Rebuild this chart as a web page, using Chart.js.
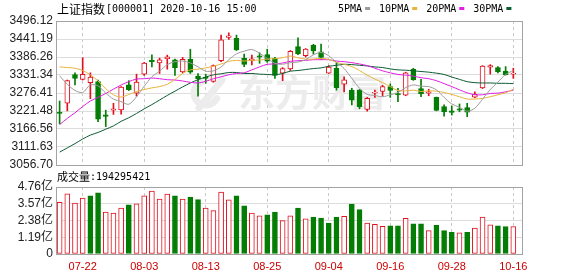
<!DOCTYPE html>
<html><head><meta charset="utf-8">
<script src="https://cdn.jsdelivr.net/npm/chart.js@4.4.0/dist/chart.umd.min.js"></script>
<style>
html,body{margin:0;padding:0;background:#fff;width:578px;height:276px;overflow:hidden}
#wrap{position:relative;width:578px;height:276px}
canvas{position:absolute;left:0}
#kline{top:0;width:578px;height:180px}
#vol{top:168px;width:578px;height:108px}
</style></head><body>
<div id="wrap"><canvas id="kline" width="578" height="180"></canvas><canvas id="vol" width="578" height="108"></canvas></div>
<script>
// ---- data: SSE Composite daily bars, 2020-07-17 .. 2020-10-16 ----
const dates = ['07-17','07-20','07-21','07-22','07-23','07-24','07-27','07-28','07-29','07-30','07-31',
  '08-03','08-04','08-05','08-06','08-07','08-10','08-11','08-12','08-13','08-14','08-17','08-18','08-19','08-20','08-21','08-24','08-25','08-26','08-27','08-28','08-31',
  '09-01','09-02','09-03','09-04','09-07','09-08','09-09','09-10','09-11','09-14','09-15','09-16','09-17','09-18','09-21','09-22','09-23','09-24','09-25','09-28','09-29','09-30',
  '10-09','10-12','10-13','10-14','10-15','10-16'];
const opens = [3217,3245,3333,3318,3308,3311,3210,3224,3225,3301,3276,3334,3377,3368,3381,3378,3341,3379,3328,3325,
  3312,3375,3446,3443,3382,3375,3390,3394,3382,3337,3350,3418,3390,3423,3402,3337,3352,3303,3285,3285,
  3226,3276,3281,3296,3275,3270,3349,3290,3276,3263,3235,3222,3228,3232,3264,3292,3355,3354,3343,3334];
const highs = [3252,3316,3338,3384,3338,3316,3224,3245,3296,3314,3334,3370,3393,3383,3392,3380,3385,3410,3336,3334,
  3362,3453,3460,3453,3395,3392,3399,3410,3385,3354,3406,3445,3412,3425,3426,3360,3369,3326,3291,3287,
  3263,3285,3300,3304,3291,3340,3352,3318,3288,3264,3240,3237,3243,3245,3280,3360,3363,3357,3357,3352];
const lows = [3182,3222,3301,3316,3259,3189,3174,3211,3212,3284,3267,3330,3356,3336,3349,3330,3338,3336,3267,3306,
  3309,3372,3440,3406,3357,3362,3367,3370,3321,3314,3345,3393,3386,3395,3379,3336,3285,3280,3240,3228,
  3221,3263,3267,3263,3250,3268,3315,3265,3268,3222,3206,3209,3219,3204,3262,3290,3334,3338,3331,3321];
const closes = [3214.13,3314.15,3320.90,3333.16,3325.11,3196.77,3205.23,3227.96,3294.55,3286.82,3310.01,
  3367.97,3371.69,3377.56,3386.46,3354.04,3379.25,3340.29,3319.27,3320.73,3360.10,3438.80,3451.09,3408.13,3363.90,3380.68,3385.64,3373.58,3329.74,3350.59,3403.81,3395.68,
  3410.61,3404.80,3384.98,3355.37,3292.59,3316.42,3254.63,3234.82,3260.35,3278.81,3295.68,3283.92,3270.44,3338.09,3316.94,3274.30,3279.71,3223.18,3219.42,3217.53,3224.36,3218.05,
  3272.08,3358.47,3359.75,3340.52,3332.18,3336.36];
const prevClose = 3210.10; // close of the session before the first bar
const volumes = [3.67e8,4.28e8,3.62e8,3.98e8,4.14e8,4.35e8,2.98e8,2.91e8,3.27e8,3.50e8,3.57e8,4.14e8,4.47e8,3.91e8,4.26e8,4.14e8,3.91e8,4.05e8,3.86e8,3.27e8,
  3.08e8,4.40e8,3.84e8,4.14e8,3.43e8,2.91e8,2.72e8,2.79e8,2.98e8,2.37e8,2.72e8,3.27e8,2.49e8,2.63e8,2.56e8,2.20e8,2.63e8,2.67e8,3.55e8,3.15e8,
  2.20e8,2.10e8,1.96e8,2.01e8,2.01e8,2.53e8,2.15e8,2.15e8,1.66e8,2.06e8,1.66e8,1.54e8,1.51e8,1.54e8,1.85e8,2.63e8,2.08e8,2.01e8,1.94e8,194295421];
const ma5 = [3329,3303,3284,3278,3301,3298,3276,3258,3250,3242,3265,3297,3326,3343,3363,3372,3374,3368,3356,3343,3344,3356,3378,3396,3404,3409,3398,3382,3367,3364,
  3369,3371,3378,3393,3400,3390,3370,3351,3321,3291,3272,3269,3265,3271,3278,3293,3301,3297,3296,3286,3263,3243,3233,3221,3230,3258,3287,3310,3333,3345];
const ma10 = [3356,3354,3352,3345,3332,3313,3290,3271,3264,3272,3281,3287,3292,3296,3303,3318,3336,3347,3349,3353,3358,3365,3373,3376,3374,3376,3377,3380,3381,3384,
  3389,3384,3380,3380,3382,3379,3370,3364,3357,3345,3331,3319,3308,3296,3284,3283,3285,3281,3283,3282,3278,3272,3265,3258,3258,3260,3265,3271,3277,3288];
const ma20 = [3180,3199,3216,3235,3252,3263,3275,3288,3301,3311,3319,3320,3322,3320,3317,3316,3313,3309,3307,3312,3320,3326,3332,3336,3338,3347,3356,3364,3365,3368,
  3373,3375,3376,3378,3378,3378,3374,3372,3369,3365,3360,3352,3344,3338,3333,3331,3328,3323,3320,3314,3305,3296,3286,3277,3271,3271,3275,3276,3280,3285];
const ma30 = [3096,3109,3122,3136,3148,3156,3166,3176,3190,3201,3214,3228,3241,3255,3269,3282,3295,3307,3317,3325,3332,3335,3339,3339,3336,3336,3334,3333,3332,3336,
  3343,3345,3348,3351,3353,3358,3361,3364,3363,3361,3359,3356,3354,3350,3347,3346,3344,3342,3340,3337,3333,3325,3318,3311,3308,3307,3307,3306,3306,3305];
const maLabels = ['5PMA','10PMA','20PMA','30PMA'];
const priceTickLabels = ['3056.70','3111.63','3166.56','3221.48','3276.41','3331.34','3386.26','3441.19','3496.12'];
const volumeTickValues = [0,1.19e8,2.38e8,3.57e8,4.76e8];
const volumeTickLabels = ['0','1.19亿','2.38亿','3.57亿','4.76亿'];
const xTickLabels = ['07-22','08-03','08-13','08-25','09-04','09-16','09-28','10-16'];
const titleName = '上证指数';
const titleCode = '[000001]';
const titleTime = '2020-10-16 15:00';
const volumeTitle = '成交量';

// ---- styling ----
const RED = '#e0101e', GREEN = '#037d03';
const MA_COLORS = ['#9c9c9c', '#e8b43c', '#e01ee4', '#0c5c32'];
const FRAME = '#a3a3a3', HGRID = '#dddddd', VGRID = '#c9c9c9';
const TICK_FONT = {family: '"Liberation Sans", "Noto Sans CJK SC", sans-serif', size: 12};
const MONO = '"DejaVu Sans Mono", "Liberation Mono", monospace';
const CJK = '"Noto Sans CJK SC", sans-serif';
const X_MIN = -0.47, X_MAX = 60.26;

const idx = dates.map((d, i) => i);
const upBar = closes.map((c, i) => c >= opens[i]);
const upDay = closes.map((c, i) => c >= (i ? closes[i - 1] : prevClose));
const xTickValues = xTickLabels.map(l => dates.indexOf(l));

function xScale(showLabels) {
  return {
    type: 'linear', min: X_MIN, max: X_MAX, offset: false,
    afterBuildTicks: s => { s.ticks = xTickValues.map(v => ({value: v})); },
    afterFit: s => { s.height = showLabels ? 22 : 0; },
    grid: {color: VGRID, lineWidth: 1, drawTicks: false, offset: false},
    border: {display: false, dash: [3, 3]},
    ticks: {display: showLabels, autoSkip: false, maxRotation: 0, padding: 6, color: '#cc0000',
      font: {family: '"Liberation Sans", sans-serif', size: 11},
      callback: v => dates[v]}
  };
}

const framePlugin = {
  id: 'frame',
  afterDraw(chart) {
    const {ctx, chartArea: a} = chart;
    ctx.save();
    ctx.strokeStyle = FRAME; ctx.lineWidth = 1;
    ctx.strokeRect(Math.round(a.left) + 0.5, Math.round(a.top) + 0.5, Math.round(a.right - a.left) - 1, Math.round(a.bottom - a.top));
    ctx.restore();
  }
};

const watermarkPlugin = {
  id: 'watermark',
  beforeDatasetsDraw(chart) {
    const ctx = chart.ctx;
    ctx.save();
    ctx.fillStyle = '#ececec'; ctx.strokeStyle = '#ececec';
    ctx.lineWidth = 7; ctx.lineCap = 'round';
    ctx.beginPath(); ctx.arc(206, 93, 12, Math.PI * 0.15, Math.PI * 1.35); ctx.stroke();
    ctx.beginPath(); ctx.moveTo(199, 108); ctx.lineTo(222, 80); ctx.stroke();
    ctx.font = 'bold 37px ' + CJK;
    ctx.textBaseline = 'middle';
    ctx.fillText('东方财富', 238, 93);
    ctx.restore();
  }
};

const headerPlugin = {
  id: 'header',
  afterDraw(chart) {
    const ctx = chart.ctx;
    ctx.save();
    ctx.fillStyle = '#000'; ctx.textBaseline = 'middle';
    ctx.font = '12px ' + CJK;
    ctx.fillText(titleName, 57, 9);
    const w = ctx.measureText(titleName).width;
    ctx.font = '10px ' + MONO;
    ctx.fillText(titleCode + ' ' + titleTime, 57 + w + 1, 9);
    // MA legend: label followed by a short colour bar
    let x = 338;
    chart.data.datasets.filter(d => d.type === 'line').forEach(d => {
      ctx.fillStyle = '#000';
      ctx.fillText(d.label, x, 9);
      x += ctx.measureText(d.label).width + 3;
      ctx.fillStyle = d.borderColor;
      ctx.fillRect(x, 7, 5, 3);
      x += 5 + 9;
    });
    ctx.restore();
  }
};

const volHeaderPlugin = {
  id: 'volHeader',
  afterDraw(chart) {
    const ctx = chart.ctx;
    ctx.save();
    ctx.fillStyle = '#000'; ctx.textBaseline = 'middle';
    ctx.font = '11px ' + CJK;
    ctx.fillText(volumeTitle, 57, 9);
    const w = ctx.measureText(volumeTitle).width;
    ctx.font = '10px ' + MONO;
    ctx.fillText(':' + volumes[volumes.length - 1], 57 + w, 9);
    ctx.restore();
  }
};

const common = {
  responsive: false, maintainAspectRatio: false, animation: false, devicePixelRatio: 1, events: [],
  plugins: {legend: {display: false}, tooltip: {enabled: false}}
};

new Chart(document.getElementById('kline'), {
  type: 'bar',
  data: {
    datasets: [
      {type: 'bar', label: 'wick', order: 3, grouped: false, barThickness: 1,
        data: idx.map(i => ({x: i, y: [lows[i], highs[i]]})),
        backgroundColor: idx.map(i => upBar[i] ? RED : GREEN)},
      {type: 'bar', label: 'body', order: 2, grouped: false, barThickness: 5, borderWidth: 1, borderSkipped: false, minBarLength: 1,
        data: idx.map(i => ({x: i, y: [opens[i], closes[i]]})),
        backgroundColor: idx.map(i => upBar[i] ? '#ffffff' : GREEN),
        borderColor: idx.map(i => upBar[i] ? RED : GREEN)},
      ...[ma5, ma10, ma20, ma30].map((arr, k) => ({
        type: 'line', label: maLabels[k], order: 1, data: idx.map(i => ({x: i, y: arr[i]})),
        borderColor: MA_COLORS[k], borderWidth: 1, pointRadius: 0, tension: 0.3, fill: false
      }))
    ]
  },
  options: {
    ...common,
    layout: {padding: {top: 21, right: 55, bottom: 15, left: 0}},
    scales: {
      x: xScale(false),
      y: {
        type: 'linear', min: 3056.70, max: 3496.12, beginAtZero: false,
        afterBuildTicks: s => { s.ticks = priceTickLabels.map(l => ({value: parseFloat(l)})); },
        afterFit: s => { s.width = 56; },
        grid: {color: HGRID, drawTicks: false},
        border: {display: false},
        ticks: {autoSkip: false, padding: 3, color: '#222', font: TICK_FONT,
          callback: (v, i) => priceTickLabels[i]}
      }
    }
  },
  plugins: [watermarkPlugin, framePlugin, headerPlugin]
});

new Chart(document.getElementById('vol'), {
  type: 'bar',
  data: {
    datasets: [{
      label: volumeTitle, grouped: false, barThickness: 5, borderWidth: 1, borderSkipped: false,
      data: idx.map(i => ({x: i, y: volumes[i]})),
      backgroundColor: idx.map(i => upDay[i] ? '#ffffff' : GREEN),
      borderColor: idx.map(i => upDay[i] ? RED : GREEN)
    }]
  },
  options: {
    ...common,
    layout: {padding: {top: 19, right: 55, bottom: 0, left: 0}},
    scales: {
      x: xScale(true),
      y: {
        type: 'linear', min: 0, max: 4.76e8,
        afterBuildTicks: s => { s.ticks = volumeTickValues.map(v => ({value: v})); },
        afterFit: s => { s.width = 56; },
        grid: {color: HGRID, drawTicks: false},
        border: {display: false},
        ticks: {autoSkip: false, padding: 3, color: '#222', font: TICK_FONT,
          callback: (v, i) => volumeTickLabels[i]}
      }
    }
  },
  plugins: [framePlugin, volHeaderPlugin]
});
</script></body></html>
